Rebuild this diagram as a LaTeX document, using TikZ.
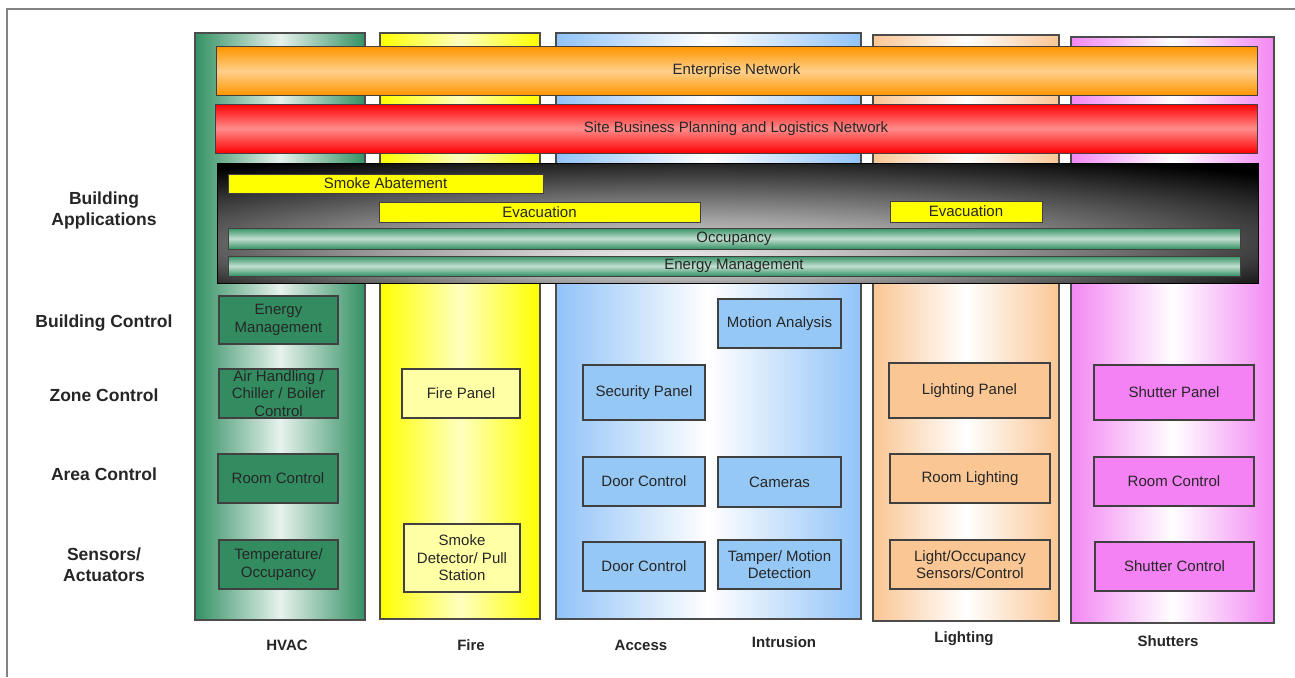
\documentclass[tikz,border=0pt]{standalone}
\usepackage{fontspec}
\setmainfont{Liberation Sans}
\usepackage{tikz}
\usetikzlibrary{calc, positioning}

\definecolor{hvacgreen}{RGB}{52,145,100}
\definecolor{hvacbox}{RGB}{50,140,95}
\definecolor{fireyellow}{RGB}{255,255,0}
\definecolor{firebox}{RGB}{255,255,165}
\definecolor{accessblue}{RGB}{145,195,248}
\definecolor{accessbox}{RGB}{150,200,245}
\definecolor{lightpeach}{RGB}{250,198,148}
\definecolor{shutpink}{RGB}{243,135,243}
\definecolor{shutbox}{RGB}{245,130,245}
\definecolor{entorange}{RGB}{255,150,0}
\definecolor{sitered}{RGB}{255,0,0}
\definecolor{framegray}{RGB}{130,130,130}

\pgfdeclareradialshading{appsglow}{\pgfpoint{-4bp}{-16bp}}{color(0bp)=(white!95!black); color(14bp)=(white!62!black); color(36bp)=(black); color(50bp)=(black)}

\tikzset{
  column/.style={draw=black!70, line width=1.1pt, inner sep=0pt, outer sep=0pt},
  bar/.style={draw=black!75, line width=1pt, inner sep=0pt, outer sep=0pt,
    font=\fontsize{15}{17}\selectfont, text=black!85},
  unit/.style={draw=black!75, line width=1.1pt, inner sep=0pt, outer sep=0pt,
    align=center, font=\fontsize{15}{17.5}\selectfont, text=black!85},
  level/.style={align=center, font=\bfseries\fontsize{17.5}{21}\selectfont, text=black!85},
  system/.style={font=\bfseries\fontsize{15}{18}\selectfont, text=black!85}
}

\begin{document}
\begin{tikzpicture}[x=1pt, y=-1pt]
  \useasboundingbox (0,0) rectangle (1295,677);
  \fill[white] (0,0) rectangle (1295,677);
  \draw[framegray, line width=1.5pt] (7,677) -- (7,9) -- (1295,9);

  % system columns
  \node[column, left color=hvacgreen, right color=hvacgreen, middle color=hvacgreen!12!white,
        minimum width=170, minimum height=587] (hvac) at (280,326.5) {};
  \node[column, left color=fireyellow, right color=fireyellow, middle color=fireyellow!25!white,
        minimum width=160, minimum height=586] (fire) at (460,326) {};
  \node[column, left color=accessblue, right color=accessblue, middle color=white,
        minimum width=305, minimum height=586] (access) at (708.5,326) {};
  \node[column, left color=lightpeach, right color=lightpeach, middle color=white,
        minimum width=186, minimum height=586] (lighting) at (966,328) {};
  \node[column, left color=shutpink, right color=shutpink, middle color=white,
        minimum width=203, minimum height=586] (shutters) at (1172.5,330) {};

  % networks
  \node[bar, top color=entorange, bottom color=entorange, middle color=entorange!45!white,
        minimum width=1041, minimum height=48] (enterprise) at (736.5,71) {Enterprise Network};
  \node[bar, top color=sitered, bottom color=sitered, middle color=sitered!45!white,
        minimum width=1042, minimum height=49] (site) at (736,128.5) {Site Business Planning and Logistics Network};

  % building applications
  \node[bar, draw=black, shading=appsglow, minimum width=1041, minimum height=120] (apps) at (737.5,223) {};
  \node[bar, fill=fireyellow, minimum width=315, minimum height=19] (smoke) at (385.5,183.5) {Smoke Abatement};
  \node[bar, fill=fireyellow, minimum width=321, minimum height=20] (evacfire) at (539.5,212) {Evacuation};
  \node[bar, fill=fireyellow, minimum width=152, minimum height=21] (evaclight) at (966,211.5) {Evacuation};
  \node[bar, top color=hvacgreen, bottom color=hvacgreen, middle color=hvacgreen!30!white,
        minimum width=1012, minimum height=21] (occupancy) at (734,238.5) {Occupancy};
  \node[bar, top color=hvacgreen, bottom color=hvacgreen, middle color=hvacgreen!30!white,
        minimum width=1012, minimum height=20] (energybar) at (734,266) {Energy Management};

  % HVAC units
  \node[unit, fill=hvacbox, minimum width=119, minimum height=48] (hvacbc) at (278.5,320) {Energy\\Management};
  \node[unit, fill=hvacbox, minimum width=119, minimum height=49] (hvaczc) at (278.5,393.5) {Air Handling /\\Chiller / Boiler\\Control};
  \node[unit, fill=hvacbox, minimum width=120, minimum height=49] (hvacac) at (278,478.5) {Room Control};
  \node[unit, fill=hvacbox, minimum width=119, minimum height=49] (hvacsa) at (278.5,564.5) {Temperature/\\Occupancy};

  % fire units
  \node[unit, fill=firebox, minimum width=118, minimum height=49] (firezc) at (461,393.5) {Fire Panel};
  \node[unit, fill=firebox, minimum width=116, minimum height=68] (firesa) at (462,558) {Smoke\\Detector/ Pull\\Station};

  % access and intrusion units
  \node[unit, fill=accessbox, minimum width=123, minimum height=49] (motion) at (779.5,323.5) {Motion Analysis};
  \node[unit, fill=accessbox, minimum width=122, minimum height=55] (security) at (644,392.5) {Security Panel};
  \node[unit, fill=accessbox, minimum width=122, minimum height=49] (doorac) at (644,481.5) {Door Control};
  \node[unit, fill=accessbox, minimum width=123, minimum height=50] (cameras) at (779.5,482) {Cameras};
  \node[unit, fill=accessbox, minimum width=122, minimum height=49] (doorsa) at (644,566.5) {Door Control};
  \node[unit, fill=accessbox, minimum width=123, minimum height=49] (tamper) at (779.5,564.5) {Tamper/ Motion\\Detection};

  % lighting units
  \node[unit, fill=lightpeach, minimum width=161, minimum height=55] (lightzc) at (969.5,390.5) {Lighting Panel};
  \node[unit, fill=lightpeach, minimum width=160, minimum height=49] (lightac) at (970,478.5) {Room Lighting};
  \node[unit, fill=lightpeach, minimum width=160, minimum height=49] (lightsa) at (970,564.5) {Light/Occupancy\\Sensors/Control};

  % shutter units
  \node[unit, fill=shutbox, minimum width=160, minimum height=55] (shutzc) at (1174,392.5) {Shutter Panel};
  \node[unit, fill=shutbox, minimum width=160, minimum height=49] (shutac) at (1174,481.5) {Room Control};
  \node[unit, fill=shutbox, minimum width=159, minimum height=49] (shutsa) at (1174.5,566.5) {Shutter Control};

  % levels
  \node[level] (lvapps) at (104,210) {Building\\Applications};
  \node[level] (lvbc) at (104,323) {Building Control};
  \node[level] (lvzc) at (104,395) {Zone Control};
  \node[level] (lvac) at (104,474) {Area Control};
  \node[level] (lvsa) at (104,565) {Sensors/\\Actuators};

  % systems
  \node[system] (lbhvac) at (287,645) {HVAC};
  \node[system] (lbfire) at (471,645) {Fire};
  \node[system] (lbaccess) at (641,645) {Access};
  \node[system] (lbintrusion) at (784,642) {Intrusion};
  \node[system] (lblighting) at (964,639) {Lighting};
  \node[system] (lbshutters) at (1168,641) {Shutters};
\end{tikzpicture}
\end{document}
